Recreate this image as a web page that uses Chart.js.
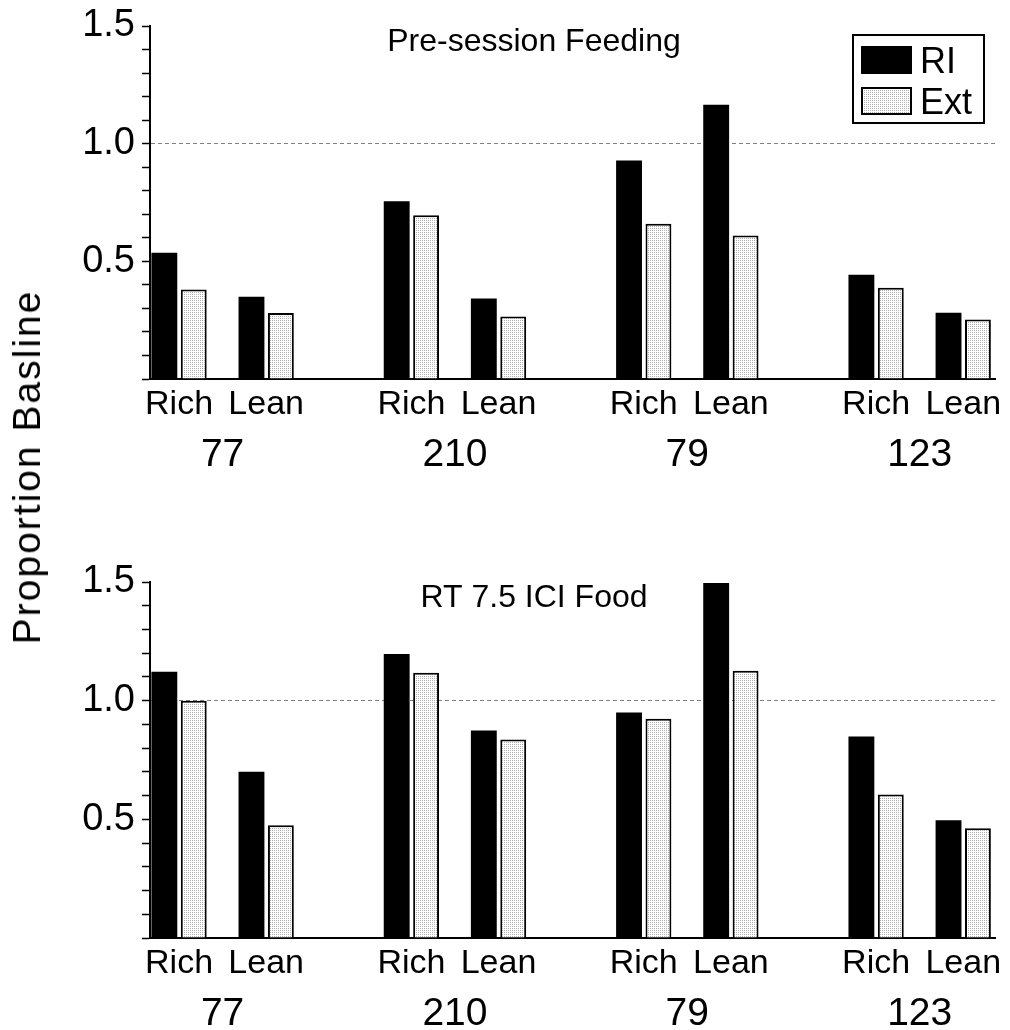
<!DOCTYPE html>
<html>
<head>
<meta charset="utf-8">
<script src="https://cdn.jsdelivr.net/npm/chart.js@4.4.1/dist/chart.umd.min.js"></script>
<style>
  body { margin: 0; background: #fff; }
  #wrap { position: relative; width: 1010px; height: 1030px; }
  canvas { position: absolute; left: 0; }
  #top { top: 0; }
  #bottom { top: 480px; }
  #ytitle {
    position: absolute; left: 27px; top: 467px;
    transform: translate(-50%, -50%) rotate(-90deg);
    font: 39px 'Liberation Sans', Arial, sans-serif;
    letter-spacing: 2px; white-space: nowrap; color: #000;
  }
</style>
</head>
<body>
<div id="wrap">
  <canvas id="top" width="1010" height="480"></canvas>
  <canvas id="bottom" width="1010" height="550"></canvas>
  <div id="ytitle">Proportion Basline</div>
</div>
<script>
var groups = ['77', '210', '79', '123'];
var conditions = ['Rich', 'Lean'];
var seriesNames = ['RI', 'Ext'];
var yTickLabels = ['0.5', '1.0', '1.5'];

// order: 77 rich, 77 lean, 210 rich, 210 lean, 79 rich, 79 lean, 123 rich, 123 lean
var preRI  = [0.536, 0.350, 0.755, 0.342, 0.928, 1.165, 0.443, 0.282];
var preExt = [0.380, 0.280, 0.696, 0.266, 0.660, 0.610, 0.388, 0.253];
var rtRI   = [1.122, 0.700, 1.197, 0.874, 0.950, 1.496, 0.849, 0.496];
var rtExt  = [1.000, 0.475, 1.118, 0.836, 0.924, 1.126, 0.605, 0.462];

var font = "'Liberation Sans', Arial, sans-serif";
Chart.defaults.font.family = font;
Chart.defaults.color = '#000';

// x slots: rich and lean 3 apart, groups 8 apart
function slot(gi, ci) { return gi * 8 + ci * 3; }

function points(vals) {
  var out = [];
  groups.forEach(function (g, gi) {
    conditions.forEach(function (c, ci) {
      out.push({x: slot(gi, ci), y: vals[gi * conditions.length + ci]});
    });
  });
  return out;
}

function stipple(ctx) {
  var c = document.createElement('canvas');
  c.width = 2; c.height = 2;
  var g = c.getContext('2d');
  g.fillStyle = '#fff'; g.fillRect(0, 0, 2, 2);
  g.fillStyle = '#b0b0b0'; g.fillRect(0, 0, 1, 1);
  return ctx.createPattern(c, 'repeat');
}

var panelText = {
  id: 'panelText',
  afterDraw: function (chart, args, opts) {
    var ctx = chart.ctx, area = chart.chartArea;
    ctx.save();
    ctx.fillStyle = '#000';
    ctx.font = '32px ' + font;
    ctx.textAlign = 'center';
    ctx.textBaseline = 'alphabetic';
    ctx.fillText(opts.title, 534, area.top + 25);
    if (opts.legend) {
      ctx.strokeStyle = '#000';
      ctx.lineWidth = 2;
      ctx.strokeRect(853, 35, 131, 88);
      ctx.font = '36px ' + font;
      ctx.textAlign = 'left';
      chart.data.datasets.forEach(function (ds, i) {
        var y = 46 + i * 41;
        ctx.fillStyle = ds.backgroundColor;
        ctx.fillRect(861, y, 51, 28);
        if (ds.borderWidth) {
          ctx.lineWidth = ds.borderWidth;
          ctx.strokeStyle = ds.borderColor;
          ctx.strokeRect(862, y + 1, 49, 26);
        }
        ctx.fillStyle = '#000';
        ctx.fillText(ds.label, 920, y + 27);
      });
    }
    ctx.restore();
  }
};

function makeChart(id, title, ri, ext, legend, pad) {
  var ctx = document.getElementById(id).getContext('2d');
  return new Chart(ctx, {
    type: 'bar',
    data: {
      datasets: [
        {label: seriesNames[0], data: points(ri), backgroundColor: '#000', borderWidth: 0,
         categoryPercentage: 0.675, barPercentage: 0.88},
        {label: seriesNames[1], data: points(ext), backgroundColor: stipple(ctx), borderColor: '#000', borderWidth: 2,
         categoryPercentage: 0.675, barPercentage: 0.88}
      ]
    },
    options: {
      responsive: false,
      animation: false,
      layout: {padding: pad},
      plugins: {
        legend: {display: false},
        tooltip: {enabled: false},
        panelText: {title: title, legend: legend}
      },
      scales: {
        x: {
          type: 'linear', min: -1, max: 28.1, offset: false, weight: 0,
          afterBuildTicks: function (s) {
            var t = [];
            groups.forEach(function (g, gi) {
              conditions.forEach(function (c, ci) { t.push({value: slot(gi, ci)}); });
            });
            s.ticks = t;
          },
          afterFit: function (s) { s.height = 50; },
          ticks: {
            autoSkip: false, maxRotation: 0, padding: 8.5,
            font: {size: 34, lineHeight: 1},
            callback: function (v, i) { return conditions[i % conditions.length]; }
          },
          grid: {display: false, drawTicks: false},
          border: {display: true, color: '#000', width: 2}
        },
        x2: {
          type: 'linear', position: 'bottom', min: -1, max: 28.1, offset: false, weight: 1,
          afterBuildTicks: function (s) {
            s.ticks = groups.map(function (g, gi) { return {value: slot(gi, 0) + 1.5}; });
          },
          afterFit: function (s) { s.height = 42; },
          ticks: {
            autoSkip: false, maxRotation: 0, padding: 6.5,
            font: {size: 39, lineHeight: 1},
            callback: function (v, i) { return groups[i]; }
          },
          grid: {display: false, drawTicks: false},
          border: {display: false}
        },
        y: {
          min: 0, max: 1.5,
          afterFit: function (s) { s.width = 150; },
          ticks: {
            stepSize: 0.1, autoSkip: false, padding: 7,
            font: {size: 38, lineHeight: 1},
            callback: function (v) {
              var hit = yTickLabels.filter(function (l) { return Math.abs(parseFloat(l) - v) < 1e-6; });
              return hit.length ? hit[0] : '';
            }
          },
          grid: {
            drawTicks: true, tickLength: 8,
            color: function (c) {
              return c.tick && Math.abs(c.tick.value - 1) < 1e-6 ? '#808080' : 'rgba(0,0,0,0)';
            },
            lineWidth: 1, tickColor: '#000', tickWidth: 1.5
          },
          border: {display: true, color: '#000', width: 2, dash: [4, 3]}
        }
      }
    },
    plugins: [panelText]
  });
}

makeChart('top', 'Pre-session Feeding', preRI, preExt, true, {left: 0, top: 24, right: 12, bottom: 9});
makeChart('bottom', 'RT 7.5 ICI Food', rtRI, rtExt, false, {left: 0, top: 102, right: 12, bottom: 0});
</script>
</body>
</html>
